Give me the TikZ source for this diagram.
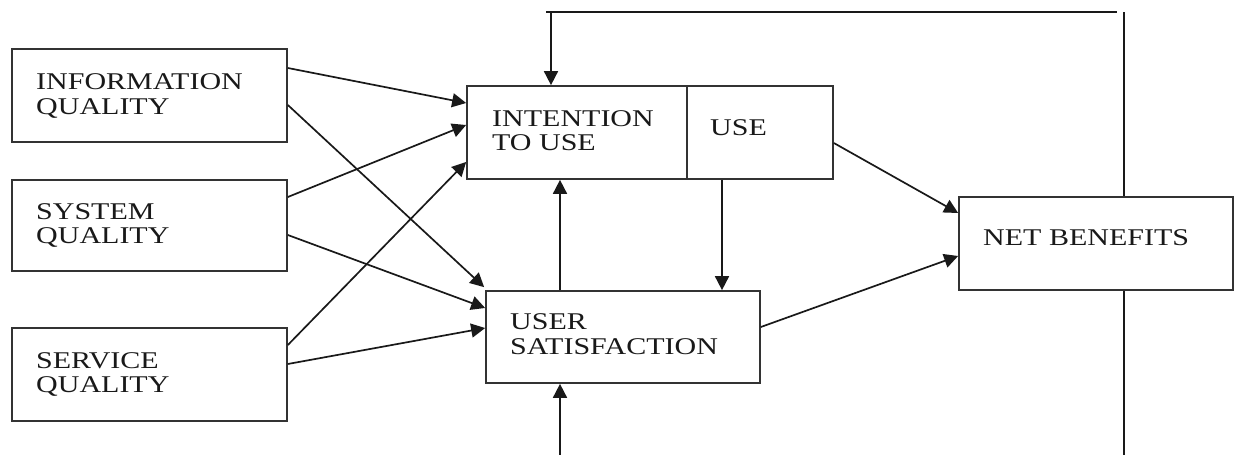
\documentclass[tikz,border=0pt]{standalone}
\usepackage{fontspec}
\setmainfont[FakeStretch=1.25]{Liberation Serif}
\usetikzlibrary{arrows.meta}
\begin{document}
\begin{tikzpicture}[x=1pt,y=-1pt,
  box/.style={draw=black!80,line width=1.7pt,rectangle,inner sep=0pt,minimum width=#1},
  lbl/.style={inner sep=0pt,anchor=base west,font=\fontsize{24}{25}\selectfont,text=black!90},
  conn/.style={line width=1.7pt,draw=black!90},
  arr/.style={conn,-{Triangle[length=14pt,width=14pt]}}]
\useasboundingbox (0,0) rectangle (1235,455);
% boxes
\node[box=275,minimum height=93] (info) at (149.5,95.5) {};
\node[box=275,minimum height=91] (sys)  at (149.5,225.5) {};
\node[box=275,minimum height=93] (serv) at (149.5,374.5) {};
\node[box=220,minimum height=93] (int)  at (577,132.5) {};
\node[box=146,minimum height=93] (use)  at (760,132.5) {};
\node[box=274,minimum height=92] (us)   at (623,337) {};
\node[box=274,minimum height=93] (nb)   at (1096,243.5) {};
% texts
\node[lbl] (t1) at (36,89) {INFORMATION};
\node[lbl] (t2) at (36,114) {QUALITY};
\node[lbl] (t3) at (36,219) {SYSTEM};
\node[lbl] (t4) at (36,243) {QUALITY};
\node[lbl] (t5) at (36,368) {SERVICE};
\node[lbl] (t6) at (36,392) {QUALITY};
\node[lbl] (t7) at (492,126) {INTENTION};
\node[lbl] (t8) at (492,150) {TO USE};
\node[lbl] (t9) at (710,135) {USE};
\node[lbl] (t10) at (510,329) {USER};
\node[lbl] (t11) at (510,354) {SATISFACTION};
\node[lbl] (t12) at (983,245) {NET BENEFITS};
% free ends
\coordinate (fbL) at (546,12);
\coordinate (fbR) at (1117,12);
\coordinate (fbA) at (551,12);
\coordinate (fbT) at (1124,12);
\coordinate (botA) at (560,455);
\coordinate (botB) at (1124,455);
% connectors from the quality boxes
\draw[arr] ([yshift=27.5pt]info.east) -- ([yshift=29.5pt]int.west);
\draw[arr] ([yshift=-9.5pt]info.east) -- ([xshift=-1pt,yshift=3pt]us.north west);
\draw[arr] ([yshift=28.5pt]sys.east) -- ([yshift=7.5pt]int.west);
\draw[arr] ([yshift=-9.5pt]sys.east) -- ([yshift=29pt]us.west);
\draw[arr] ([yshift=29.5pt]serv.east) -- ([yshift=-29.5pt]int.west);
\draw[arr] ([yshift=10.5pt]serv.east) -- ([yshift=9pt]us.west);
% middle connectors
\draw[arr] ([xshift=-63pt]us.north) -- ([xshift=-17pt]int.south);
\draw[arr] ([xshift=-38pt]use.south) -- ([xshift=99pt]us.north);
\draw[arr] (botA) -- ([xshift=-63pt]us.south);
\draw[arr] ([yshift=-10.5pt]use.east) -- ([yshift=30.5pt]nb.west);
\draw[arr] ([yshift=10pt]us.east) -- ([yshift=-12.5pt]nb.west);
% feedback loop
\draw[conn] (fbL) -- (fbR);
\draw[arr] (fbA) -- ([xshift=-26pt]int.north);
\draw[conn] (fbT) -- ([xshift=28pt]nb.north);
\draw[conn] ([xshift=28pt]nb.south) -- (botB);
\end{tikzpicture}
\end{document}
